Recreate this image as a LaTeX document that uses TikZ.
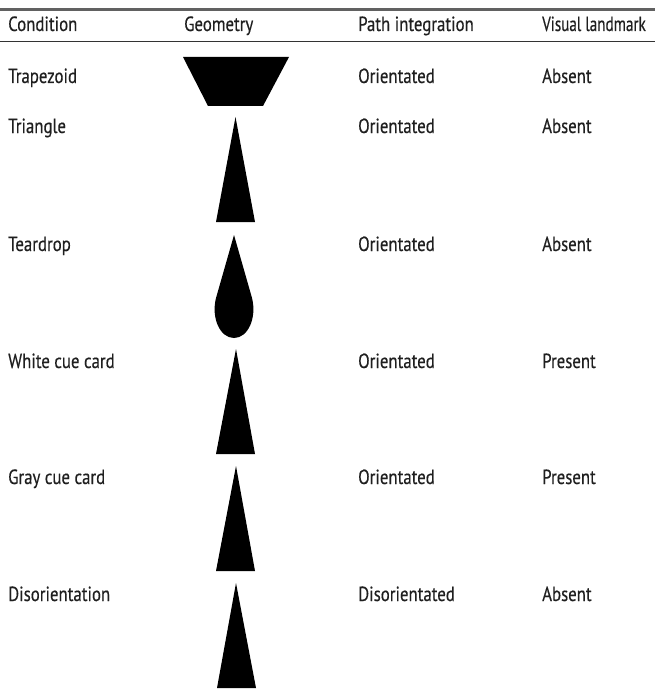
\documentclass[tikz,border=0pt]{standalone}
\usepackage{fontspec}
\setmainfont[FakeStretch=0.82,FakeBold=0.35]{PT Sans}
\begin{document}
\begin{tikzpicture}[x=1pt,y=-1pt,
  txt/.style={anchor=base west,inner sep=0pt,text=black!88,font=\fontsize{20.5}{24}\selectfont},
  shp/.style={fill=black,draw=none}]
\useasboundingbox (0,0) rectangle (655,690);
\draw[line width=2.2pt,black!62] (0,9.5) -- (655,9.5);
\draw[line width=1.4pt,black!80] (0,41.7) -- (655,41.7);
% header
\node[txt] (h1) at (8,31) {Condition};
\node[txt] (h2) at (184,31) {Geometry};
\node[txt] (h3) at (358,31) {Path integration};
\node[txt] (h4) at (542,31) {\scalebox{0.9}[1]{Visual landmark}};
% rows
\node[txt] (c1) at (8,83) {Trapezoid};
\node[txt] (p1) at (358,83) {Orientated};
\node[txt] (v1) at (542,83) {Absent};
\node[txt] (c2) at (8,133) {Triangle};
\node[txt] (p2) at (358,133) {Orientated};
\node[txt] (v2) at (542,133) {Absent};
\node[txt] (c3) at (8,251) {Teardrop};
\node[txt] (p3) at (358,251) {Orientated};
\node[txt] (v3) at (542,251) {Absent};
\node[txt] (c4) at (8,368) {White cue card};
\node[txt] (p4) at (358,368) {Orientated};
\node[txt] (v4) at (542,368) {Present};
\node[txt] (c5) at (8,484) {Gray cue card};
\node[txt] (p5) at (358,484) {Orientated};
\node[txt] (v5) at (542,484) {Present};
\node[txt] (c6) at (8,601) {Disorientation};
\node[txt] (p6) at (358,601) {Disorientated};
\node[txt] (v6) at (542,601) {Absent};
% shapes
\fill[shp] (183,57) -- (289,57) -- (263,106) -- (208,106) -- cycle;
\fill[shp] (235.5,117) -- (255,222) -- (216,222) -- cycle;
\fill[shp] (234,235) -- (216,298) .. controls (211,318) and (220,338) .. (234,338) .. controls (248,338) and (257,318) .. (252,298) -- cycle;
\fill[shp] (236,349) -- (255,454) -- (216,454) -- cycle;
\fill[shp] (236,466) -- (255,571) -- (216,571) -- cycle;
\fill[shp] (236,583) -- (256,688) -- (217,688) -- cycle;
\end{tikzpicture}
\end{document}
